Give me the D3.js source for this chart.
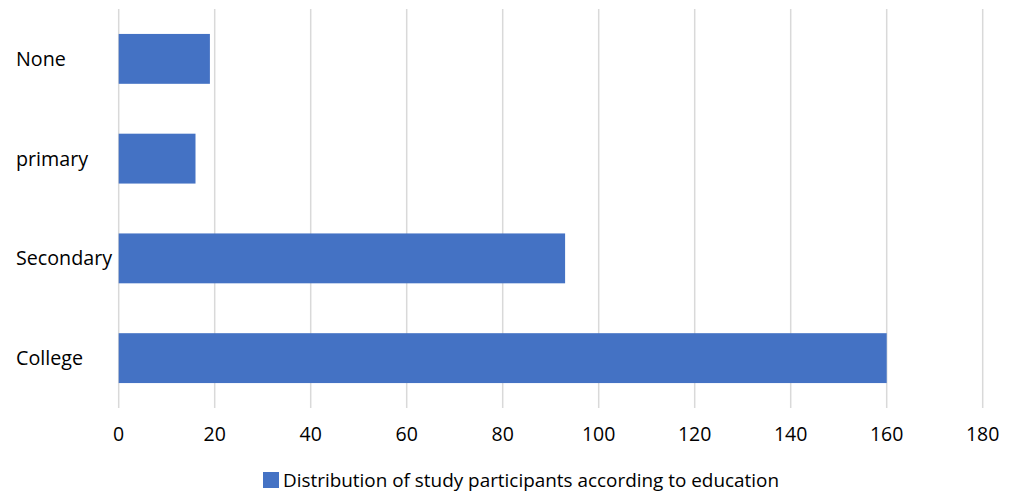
<!DOCTYPE html>
<html><head><meta charset="utf-8">
<script src="https://cdn.jsdelivr.net/npm/d3@7"></script>
<style>html,body{margin:0;padding:0;background:#fff;}</style>
</head><body>
<svg id="c" width="1015" height="494"></svg>
<script>
const categories = ["None", "primary", "Secondary", "College"];
const values = [19, 16, 93, 160];
const ticks = [0, 20, 40, 60, 80, 100, 120, 140, 160, 180];
const seriesName = "Distribution of study participants according to education";

const svg = d3.select("#c");
const font = "'Open Sans', sans-serif";
const x = d3.scaleLinear().domain([0, 180]).range([118.7, 982.7]);
const y = d3.scaleBand().domain(categories).range([9, 408]).paddingInner(0.5).paddingOuter(0.25);

// gridlines
svg.append("g").selectAll("line").data(ticks).join("line")
  .attr("x1", d => x(d)).attr("x2", d => x(d))
  .attr("y1", 9).attr("y2", 408)
  .attr("stroke", "#d9d9d9").attr("stroke-width", 1.5);

// bars
svg.append("g").selectAll("rect").data(values).join("rect")
  .attr("x", x(0)).attr("y", (d, i) => y(categories[i]))
  .attr("width", d => x(d) - x(0)).attr("height", y.bandwidth())
  .attr("fill", "#4472c4");

// x tick labels
svg.append("g").selectAll("text").data(ticks).join("text")
  .attr("x", d => x(d)).attr("y", 434).attr("dy", "0.35em")
  .attr("text-anchor", "middle").attr("font-family", font).attr("font-size", 19.5)
  .attr("fill", "#000").text(d => d);

// category labels
svg.append("g").selectAll("text").data(categories).join("text")
  .attr("x", 16).attr("y", d => y(d) + y.bandwidth() / 2).attr("dy", "0.35em")
  .attr("text-anchor", "start").attr("font-family", font).attr("font-size", 19.7)
  .attr("fill", "#000").text(d => d);

// legend
const lg = svg.append("g");
lg.append("rect").attr("x", 263).attr("y", 472).attr("width", 16).attr("height", 16).attr("fill", "#4472c4");
lg.append("text").attr("x", 283).attr("y", 480).attr("dy", "0.35em")
  .attr("font-family", font).attr("font-size", 18.9).attr("fill", "#000").text(seriesName);
</script>
</body></html>
